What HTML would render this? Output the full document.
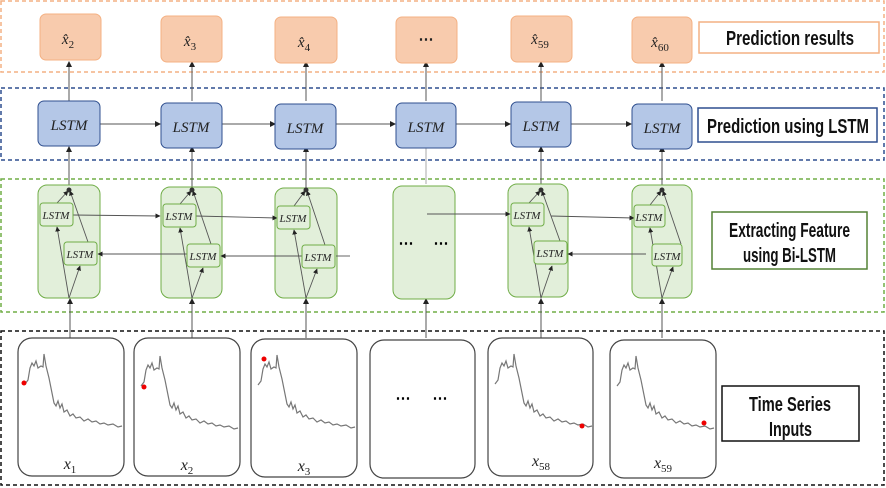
<!DOCTYPE html>
<html><head><meta charset="utf-8"><style>
html,body{margin:0;padding:0;background:#fff;}
svg{display:block;}
.lb{font-family:"Liberation Sans",sans-serif;font-weight:bold;font-size:20px;fill:#111;}
.m{font-family:"Liberation Serif",serif;font-style:italic;fill:#222;}
</style></head><body>
<svg width="886" height="488" viewBox="0 0 886 488" xmlns="http://www.w3.org/2000/svg">
<defs>
<marker id="a" markerWidth="6" markerHeight="6" refX="5" refY="3" orient="auto" markerUnits="userSpaceOnUse"><path d="M0,0 L6,3 L0,6z" fill="#222"/></marker>
<marker id="b" markerWidth="5" markerHeight="5" refX="4.5" refY="2.5" orient="auto" markerUnits="userSpaceOnUse"><path d="M0,0 L5,2.5 L0,5z" fill="#222"/></marker>
<path id="w" d="M7,46 L10,42 L12,30 L14,25 L16,28 L18,23 L20,30 L23,28 L25,29 L26,16 L28,28 L31,40 L34,55 L36,65 L38,68 L40,63 L42,70 L44,66 L46,74 L49,72 L52,78 L55,76 L58,80 L62,79 L66,83 L70,81 L74,84 L78,83 L82,86 L86,85 L90,87 L95,86 L100,89 L104,88" fill="none" stroke="#777" stroke-width="1.2"/>
</defs>
<rect x="1" y="1" width="883" height="71" fill="none" stroke="#f4b183" stroke-width="1.5" stroke-dasharray="4,3"/>
<rect x="1" y="88" width="883" height="72" fill="none" stroke="#2f4f8f" stroke-width="1.5" stroke-dasharray="4,3"/>
<rect x="1" y="179" width="883" height="133" fill="none" stroke="#70ad47" stroke-width="1.5" stroke-dasharray="4,3"/>
<rect x="1" y="331" width="883" height="154" fill="none" stroke="#111" stroke-width="1.5" stroke-dasharray="4,3"/>

<rect x="699" y="22" width="180" height="31" fill="#fff" stroke="#f4b183" stroke-width="1.5"/>
<text x="726" y="45" class="lb" textLength="128" lengthAdjust="spacingAndGlyphs">Prediction results</text>
<rect x="698" y="108" width="179" height="34" fill="#fff" stroke="#2f4f8f" stroke-width="1.5"/>
<text x="707" y="133" class="lb" textLength="162" lengthAdjust="spacingAndGlyphs">Prediction using LSTM</text>
<rect x="712" y="212" width="155" height="57" fill="#fff" stroke="#548235" stroke-width="1.5"/>
<text x="729" y="237" class="lb" textLength="121" lengthAdjust="spacingAndGlyphs">Extracting Feature</text>
<text x="743" y="262" class="lb" textLength="93" lengthAdjust="spacingAndGlyphs">using Bi-LSTM</text>
<rect x="722" y="386" width="137" height="55" fill="#fff" stroke="#111" stroke-width="1.5"/>
<text x="749" y="411" class="lb" textLength="82" lengthAdjust="spacingAndGlyphs">Time Series</text>
<text x="769" y="436" class="lb" textLength="43" lengthAdjust="spacingAndGlyphs">Inputs</text>

<g stroke="#555" stroke-width="1" fill="none">
<line x1="100" y1="124" x2="160" y2="124" marker-end="url(#a)"/>
<line x1="222" y1="124" x2="275" y2="124" marker-end="url(#a)"/>
<line x1="336" y1="124" x2="395" y2="124" marker-end="url(#a)"/>
<line x1="456" y1="124" x2="510" y2="124" marker-end="url(#a)"/>
<line x1="571" y1="124" x2="631" y2="124" marker-end="url(#a)"/>
<line x1="69" y1="101" x2="69" y2="62" marker-end="url(#a)"/>
<line x1="192" y1="101" x2="192" y2="62" marker-end="url(#a)"/>
<line x1="306" y1="101" x2="306" y2="62" marker-end="url(#a)"/>
<line x1="426" y1="101" x2="426" y2="62" marker-end="url(#a)"/>
<line x1="541" y1="101" x2="541" y2="62" marker-end="url(#a)"/>
<line x1="662" y1="101" x2="662" y2="62" marker-end="url(#a)"/>
<line x1="69" y1="190" x2="69" y2="147" marker-end="url(#a)"/>
<line x1="192" y1="190" x2="192" y2="147" marker-end="url(#a)"/>
<line x1="306" y1="190" x2="306" y2="147" marker-end="url(#a)"/>
<line x1="426" y1="184" x2="426" y2="147" stroke="#aaa"/>
<line x1="541" y1="190" x2="541" y2="147" marker-end="url(#a)"/>
<line x1="662" y1="190" x2="662" y2="147" marker-end="url(#a)"/>
<line x1="70" y1="338" x2="70" y2="299" marker-end="url(#a)"/>
<line x1="192" y1="338" x2="192" y2="299" marker-end="url(#a)"/>
<line x1="306" y1="338" x2="306" y2="299" marker-end="url(#a)"/>
<line x1="426" y1="338" x2="426" y2="299" marker-end="url(#a)"/>
<line x1="541" y1="338" x2="541" y2="299" marker-end="url(#a)"/>
<line x1="662" y1="338" x2="662" y2="299" marker-end="url(#a)"/>
</g>

<g fill="#f8cbad" stroke="#f4b183" stroke-width="1">
<rect x="40" y="14" width="61" height="46" rx="6"/>
<rect x="161" y="16" width="61" height="46" rx="6"/>
<rect x="275" y="17" width="62" height="46" rx="6"/>
<rect x="396" y="17" width="61" height="46" rx="6"/>
<rect x="511" y="16" width="61" height="46" rx="6"/>
<rect x="632" y="17" width="60" height="46" rx="6"/>
</g>
<g class="m" font-size="15" text-anchor="middle">
<text x="68" y="44">x̂<tspan font-size="11" dy="4" font-style="normal">2</tspan></text>
<text x="190" y="46">x̂<tspan font-size="11" dy="4" font-style="normal">3</tspan></text>
<text x="304" y="47">x̂<tspan font-size="11" dy="4" font-style="normal">4</tspan></text>
<text x="426" y="44" font-style="normal" font-weight="bold">⋯</text>
<text x="540" y="44">x̂<tspan font-size="11" dy="4" font-style="normal">59</tspan></text>
<text x="660" y="47">x̂<tspan font-size="11" dy="4" font-style="normal">60</tspan></text>
</g>

<g fill="#b4c7e7" stroke="#2f4f8f" stroke-width="1">
<rect x="38" y="101" width="62" height="45" rx="6"/>
<rect x="161" y="103" width="61" height="45" rx="6"/>
<rect x="275" y="104" width="61" height="45" rx="6"/>
<rect x="396" y="103" width="60" height="45" rx="6"/>
<rect x="511" y="102" width="60" height="45" rx="6"/>
<rect x="632" y="104" width="60" height="45" rx="6"/>
</g>
<g class="m" font-size="15" text-anchor="middle">
<text x="69" y="130">LSTM</text><text x="191" y="132">LSTM</text><text x="305" y="133">LSTM</text>
<text x="426" y="132">LSTM</text><text x="541" y="131">LSTM</text><text x="662" y="133">LSTM</text>
</g>

<g fill="#e2efda" stroke="#70ad47" stroke-width="1">
<rect x="38" y="185" width="62" height="113" rx="9"/>
<rect x="161" y="187" width="61" height="111" rx="9"/>
<rect x="275" y="188" width="62" height="110" rx="9"/>
<rect x="393" y="186" width="62" height="113" rx="9"/>
<rect x="508" y="184" width="60" height="113" rx="9"/>
<rect x="632" y="185" width="60" height="113" rx="9"/>
</g>

<g stroke="#555" stroke-width="0.9" fill="none">
<line x1="73" y1="215" x2="160" y2="216" marker-end="url(#b)"/>
<line x1="196" y1="216" x2="277" y2="218" marker-end="url(#b)"/>
<line x1="427" y1="214" x2="510" y2="214" marker-end="url(#b)"/>
<line x1="551" y1="216" x2="634" y2="218" marker-end="url(#b)"/>
<line x1="187" y1="254" x2="98" y2="254" marker-end="url(#b)"/>
<line x1="303" y1="256" x2="221" y2="256" marker-end="url(#b)"/>
<line x1="646" y1="254" x2="568" y2="254" marker-end="url(#b)"/>
<line x1="350" y1="256" x2="336" y2="256"/>
</g>
<g stroke="#555" stroke-width="0.9" fill="none" marker-end="url(#b)">
<line x1="69" y1="298" x2="57" y2="227"/><line x1="69" y1="298" x2="80" y2="266"/>
<line x1="57" y1="203" x2="68" y2="191"/><line x1="88" y1="242" x2="70" y2="191"/>
<line x1="192" y1="298" x2="180" y2="228"/><line x1="192" y1="298" x2="203" y2="268"/>
<line x1="180" y1="204" x2="191" y2="191"/><line x1="211" y1="244" x2="193" y2="191"/>
<line x1="306" y1="298" x2="294" y2="230"/><line x1="306" y1="298" x2="317" y2="269"/>
<line x1="294" y1="206" x2="305" y2="191"/><line x1="325" y1="245" x2="307" y2="191"/>
<line x1="541" y1="298" x2="529" y2="227"/><line x1="541" y1="298" x2="552" y2="266"/>
<line x1="529" y1="203" x2="540" y2="191"/><line x1="560" y1="241" x2="542" y2="191"/>
<line x1="662" y1="298" x2="650" y2="228"/><line x1="662" y1="298" x2="673" y2="267"/>
<line x1="650" y1="205" x2="661" y2="191"/><line x1="681" y1="244" x2="663" y2="191"/>
</g>
<g fill="#333">
<circle cx="69" cy="190" r="2.5"/><circle cx="192" cy="190" r="2.5"/><circle cx="306" cy="190" r="2.5"/><circle cx="541" cy="190" r="2.5"/><circle cx="662" cy="190" r="2.5"/>
</g>
<g fill="#e2efda" stroke="#70ad47" stroke-width="1">
<rect x="40" y="203" width="33" height="23" rx="3"/><rect x="64" y="242" width="33" height="23" rx="3"/>
<rect x="163" y="204" width="33" height="23" rx="3"/><rect x="187" y="244" width="33" height="23" rx="3"/>
<rect x="277" y="206" width="33" height="23" rx="3"/><rect x="302" y="245" width="33" height="23" rx="3"/>
<rect x="511" y="203" width="33" height="23" rx="3"/><rect x="534" y="241" width="33" height="23" rx="3"/>
<rect x="634" y="205" width="31" height="22" rx="3"/><rect x="652" y="244" width="30" height="22" rx="3"/>
</g>
<g class="m" font-size="11" text-anchor="middle">
<text x="56" y="219">LSTM</text><text x="80" y="258">LSTM</text>
<text x="179" y="220">LSTM</text><text x="203" y="260">LSTM</text>
<text x="293" y="222">LSTM</text><text x="318" y="261">LSTM</text>
<text x="527" y="219">LSTM</text><text x="550" y="257">LSTM</text>
<text x="649" y="221">LSTM</text><text x="667" y="260">LSTM</text>
</g>

<g fill="#fff" stroke="#444" stroke-width="1.2">
<rect x="18" y="338" width="106" height="138" rx="14"/>
<rect x="134" y="338" width="106" height="138" rx="14"/>
<rect x="251" y="339" width="106" height="138" rx="14"/>
<rect x="370" y="340" width="105" height="138" rx="14"/>
<rect x="488" y="338" width="105" height="138" rx="14"/>
<rect x="610" y="340" width="106" height="138" rx="14"/>
</g>
<g font-family="Liberation Sans" font-weight="bold" font-size="15" text-anchor="middle">
<text x="406" y="248">⋯</text><text x="441" y="248">⋯</text>
<text x="403" y="403">⋯</text><text x="440" y="403">⋯</text>
</g>
<use href="#w" x="18" y="338"/>
<use href="#w" x="134" y="340"/>
<use href="#w" x="251" y="339"/>
<use href="#w" x="488" y="338"/>
<use href="#w" x="610" y="340"/>
<g fill="#e00">
<circle cx="24" cy="383" r="2.5"/><circle cx="144" cy="387" r="2.5"/><circle cx="264" cy="359" r="2.5"/>
<circle cx="582" cy="426" r="2.5"/><circle cx="704" cy="423" r="2.5"/>
</g>
<g class="m" font-size="16" text-anchor="middle">
<text x="70" y="469">x<tspan font-size="11" dy="4" font-style="normal">1</tspan></text>
<text x="187" y="470">x<tspan font-size="11" dy="4" font-style="normal">2</tspan></text>
<text x="304" y="471">x<tspan font-size="11" dy="4" font-style="normal">3</tspan></text>
<text x="541" y="466">x<tspan font-size="11" dy="4" font-style="normal">58</tspan></text>
<text x="663" y="468">x<tspan font-size="11" dy="4" font-style="normal">59</tspan></text>
</g>
</svg>
</body></html>
